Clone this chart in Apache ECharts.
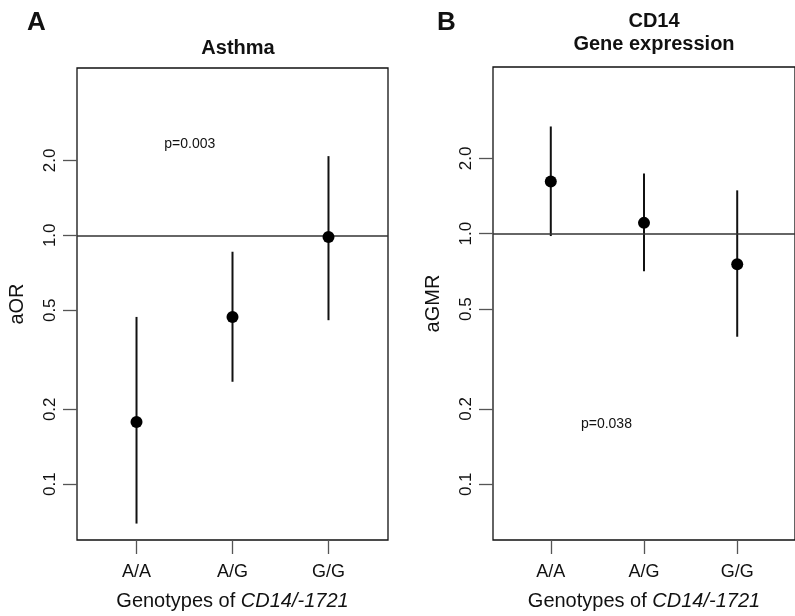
<!DOCTYPE html>
<html>
<head>
<meta charset="utf-8">
<script src="https://cdn.jsdelivr.net/npm/echarts@6/dist/echarts.min.js"></script>
<style>
html,body{margin:0;padding:0;background:#fff;}
#main{width:795px;height:616px;}
</style>
</head>
<body>
<div id="main"></div>
<script>
// genotype groups
var genotypes = ['A/A', 'A/G', 'G/G'];

// panel A : asthma, adjusted OR with 95% CI
var asthmaOR = [0.178, 0.47, 0.985];
var asthmaLow = [0.0695, 0.258, 0.456];
var asthmaHigh = [0.470, 0.859, 2.08];

// panel B : CD14 gene expression, adjusted GMR with 95% CI
var gmrVal = [1.617, 1.105, 0.756];
var gmrLow = [0.979, 0.709, 0.388];
var gmrHigh = [2.68, 1.74, 1.49];

// y ticks (log scale)
var yTicks = [0.1, 0.2, 0.5, 1, 2];
var yTickLabels = ['0.1', '0.2', '0.5', '1.0', '2.0'];

var fontName = 'Liberation Sans';

function pts(vals) {
    return vals.map(function (v, i) { return [i + 1, v]; });
}
function bars(lo, hi) {
    return lo.map(function (v, i) { return [i + 1, v, hi[i]]; });
}

function errRender(params, api) {
    var a = api.coord([api.value(0), api.value(1)]);
    var b = api.coord([api.value(0), api.value(2)]);
    return {
        type: 'line',
        shape: { x1: a[0], y1: a[1], x2: b[0], y2: b[1] },
        style: { stroke: '#111', lineWidth: 2 }
    };
}

function xAx(idx) {
    return {
        type: 'value',
        gridIndex: idx,
        min: 0.38,
        max: 3.62,
        splitLine: { show: false },
        axisLine: { show: false },
        axisTick: { show: true, customValues: [1, 2, 3], length: 14, lineStyle: { color: '#555', width: 1.3 } },
        axisLabel: {
            customValues: [1, 2, 3],
            margin: 23,
            color: '#111',
            fontSize: 18,
            fontFamily: fontName,
            formatter: function (v) { return genotypes[Math.round(v) - 1]; }
        },
        name: 'Genotypes of {i|CD14/-1721}',
        nameLocation: 'middle',
        nameGap: 51,
        nameTextStyle: {
            color: '#111', fontSize: 20, fontFamily: fontName,
            rich: { i: { fontStyle: 'italic', fontSize: 20, fontFamily: fontName, color: '#111' } }
        }
    };
}

function yAx(idx, mn, mx, nm) {
    return {
        type: 'log',
        logBase: 10,
        gridIndex: idx,
        min: mn,
        max: mx,
        splitLine: { show: false },
        axisLine: { show: false },
        axisTick: { show: true, customValues: yTicks, length: 14, lineStyle: { color: '#555', width: 1.3 } },
        axisLabel: {
            customValues: yTicks,
            rotate: 90,
            margin: 18,
            color: '#111',
            fontSize: 17,
            fontFamily: fontName,
            formatter: function (v) {
                var k = yTicks.indexOf(+v);
                return k >= 0 ? yTickLabels[k] : '';
            }
        },
        name: nm,
        nameLocation: 'middle',
        nameRotate: 90,
        nameGap: 50,
        nameTextStyle: { color: '#111', fontSize: 20, fontFamily: fontName }
    };
}

function pointSeries(idx, vals, ptxt, pcoord) {
    return {
        type: 'scatter',
        xAxisIndex: idx,
        yAxisIndex: idx,
        symbol: 'circle',
        symbolSize: 12,
        itemStyle: { color: '#000', opacity: 1 },
        z: 5,
        data: pts(vals),
        markLine: {
            silent: true,
            symbol: 'none',
            label: { show: false },
            lineStyle: { color: '#333', width: 1.5, type: 'solid' },
            data: [{ yAxis: 1 }]
        },
        markPoint: {
            silent: true,
            symbol: 'circle',
            symbolSize: 0,
            label: { show: true, position: 'inside', formatter: ptxt, color: '#111', fontSize: 14, fontFamily: fontName },
            data: [{ coord: pcoord }]
        }
    };
}

var chart = echarts.init(document.getElementById('main'));
var option = {
    animation: false,
    backgroundColor: '#fff',
    title: [
        { text: 'A', left: 22, top: 5, textStyle: { fontSize: 26, fontWeight: 'bold', color: '#111', fontFamily: fontName } },
        { text: 'Asthma', left: 233, top: 33, textAlign: 'center', textStyle: { fontSize: 20, fontWeight: 'bold', color: '#111', fontFamily: fontName } },
        { text: 'B', left: 432, top: 5, textStyle: { fontSize: 26, fontWeight: 'bold', color: '#111', fontFamily: fontName } },
        { text: 'CD14\nGene expression', left: 649, top: 5, textAlign: 'center', textStyle: { fontSize: 20, lineHeight: 23, fontWeight: 'bold', color: '#111', fontFamily: fontName } }
    ],
    grid: [
        { left: 77, top: 68, width: 311, height: 476, show: true, borderColor: '#111', borderWidth: 1.3, containLabel: false },
        { left: 493, top: 67, width: 313, height: 477, show: true, borderColor: '#111', borderWidth: 1.3, containLabel: false }
    ],
    xAxis: [xAx(0), xAx(1)],
    yAxis: [yAx(0, 0.0597, 4.70, 'aOR'), yAx(1, 0.0599, 4.63, 'aGMR')],
    series: [
        { type: 'custom', xAxisIndex: 0, yAxisIndex: 0, renderItem: errRender, encode: { x: 0, y: [1, 2] }, data: bars(asthmaLow, asthmaHigh), z: 3 },
        pointSeries(0, asthmaOR, 'p=0.003', [1.555, 2.32]),
        { type: 'custom', xAxisIndex: 1, yAxisIndex: 1, renderItem: errRender, encode: { x: 0, y: [1, 2] }, data: bars(gmrLow, gmrHigh), z: 3 },
        pointSeries(1, gmrVal, 'p=0.038', [1.597, 0.173])
    ]
};
chart.setOption(option);
</script>
</body>
</html>
